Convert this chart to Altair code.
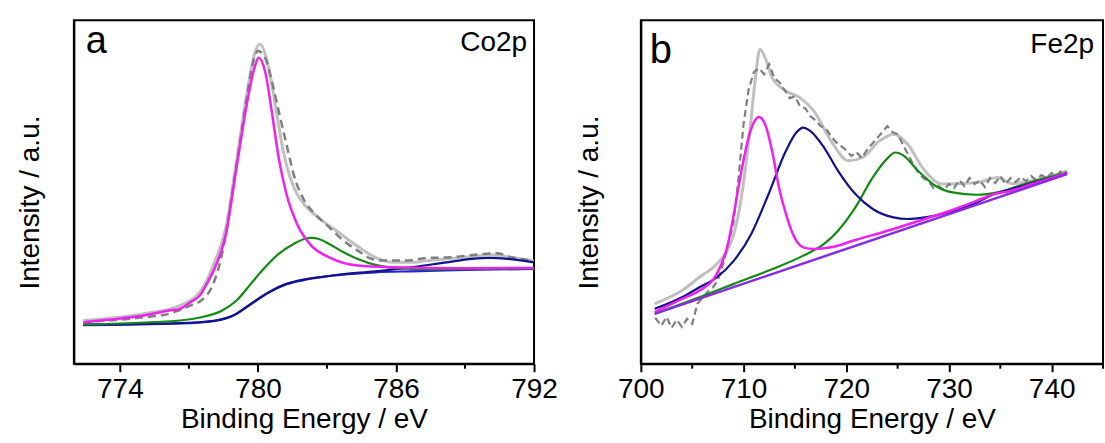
import altair as alt
import pandas as pd

FONT = "Liberation Sans"

# ---------------- Panel a : Co2p ----------------
A_ENV_X = [772.41, 775.04, 776.6, 777.53, 778.14, 778.61, 779.07, 779.54, 779.85, 780.08, 780.47, 780.8,
           781.1, 781.4, 781.7, 782.0, 782.8, 783.6, 784.4, 785.1, 785.9, 786.8, 787.4, 789.0, 790.1, 791.0, 792.0]
A_ENV_Y = [43.3, 50, 58.3, 73.3, 103.3, 136.6, 203.3, 273.3, 310, 320, 296.6, 253,
           213, 186.6, 170, 160, 143.3, 130, 116.6, 106.6, 101.6, 101.6, 103.3, 106.6, 109.3, 106.6, 102.6]

A_DATA_X = [772.41, 775.04, 776.13, 777.06, 777.53, 777.99, 778.30, 778.61, 778.92, 779.23, 779.54, 779.77,
            780.0, 780.31, 780.6, 780.9, 781.24, 781.55, 782.02, 782.48, 783.1, 783.72, 784.34, 784.96,
            785.58, 786.36, 787.4, 788.37, 789.45, 790.38, 791.0, 792.0]
A_DATA_Y = [41.6, 46.6, 50, 58.3, 63.3, 76.6, 96.6, 130, 176.6, 223.3, 270, 300,
            313.3, 306.6, 283.3, 253.3, 220, 190, 163.3, 150, 136.6, 123.3, 113.3, 105,
            103.3, 103.3, 106, 106.6, 109.3, 110.6, 106.6, 103.3]

A_MAG_X = [772.41, 773.49, 775.04, 776.13, 776.6, 777.06, 777.53, 777.69, 778.14, 778.61, 779.07, 779.54,
           779.85, 780.03, 780.31, 780.6, 780.9, 781.24, 781.7, 782.33, 783.1, 784.34, 785.9, 789.0, 792.0]
A_MAG_Y = [41.6, 44, 48.3, 53.3, 55, 61.6, 70, 76.6, 96.6, 130, 196.6, 263,
           296.6, 306.6, 293, 253, 206.6, 170, 140, 118, 106.6, 98.3, 96.6, 95.6, 96]

A_GRN_X = [772.41, 776.6, 777.53, 778.45, 779.07, 779.69, 780.31, 780.9, 781.55, 782.02, 782.33, 782.64,
           783.1, 783.72, 784.34, 785.1, 785.9, 787.4, 789.0, 792.0]
A_GRN_Y = [39.3, 43.3, 46.6, 53.3, 63.3, 80, 96.6, 110, 120, 125, 126, 125,
           120, 111.6, 105, 99, 96, 94.6, 95, 95.6]

A_NAVY_X = [772.41, 776.6, 778.14, 778.92, 779.69, 780.47, 781.24, 782.17, 783.57, 785.1, 786.66, 788.21,
            789.3, 790.07, 790.85, 792.0]
A_NAVY_Y = [39.3, 40.6, 43.3, 48.3, 60, 71.6, 80, 85, 89.3, 92.6, 96.6, 101.6,
            105, 106, 105, 101.6]

A_BLUE_X = [772.41, 776.6, 778.14, 778.92, 779.69, 780.47, 781.24, 782.17, 783.57, 785.1, 786.66, 787.4, 789.0, 792.0]
A_BLUE_Y = [38.6, 40.3, 43, 48, 59.6, 71.3, 79.6, 84.6, 89, 91.6, 92.6, 93, 94, 95]

A_MAJOR = [774, 780, 786, 792]
A_MINOR = [777, 783, 789]

# ---------------- Panel b : Fe2p ----------------
B_ENV_X = [701.35, 704.0, 705.7, 707.4, 708.4, 709.06, 709.74, 710.58, 711.09, 711.6, 712.1, 712.78, 714.13,
           715.48, 716.83, 718.52, 720.21, 721.57, 723.26, 724.6, 725.96, 727.65, 729.34, 732.72, 734.75,
           736.1, 739.48, 741.5]
B_ENV_Y = [60, 73.3, 86.6, 100, 113.3, 130, 163.3, 230, 280, 315, 306.6, 286.6, 273.3,
           266.6, 253.3, 223.3, 203.3, 206.6, 223.3, 230, 220, 193.3, 180, 181.6, 186.6,
           180.6, 186.6, 193.3]

B_DATA_X = [701.4, 702, 702.5, 703, 703.5, 704, 704.5, 705, 705.5, 706, 706.5, 707, 707.5, 708, 708.5, 709,
            709.5, 710, 710.5, 711, 711.5, 712, 712.5, 713, 713.5, 714, 714.5, 715, 715.5, 716, 716.5, 717,
            717.5, 718, 718.5, 719, 719.5, 720, 720.5, 721, 721.5, 722, 722.5, 723, 723.5, 724, 724.5, 725,
            725.5, 726, 726.5, 727, 727.5, 728, 728.5, 729, 729.5, 730, 730.5, 731, 731.5, 732, 732.5, 733,
            733.5, 734, 734.5, 735, 735.5, 736, 736.5, 737, 737.5, 738, 738.5, 739, 739.5, 740, 740.5, 741, 741.5]
B_DATA_Y = [46, 38, 47, 36, 44, 37, 45, 40, 60, 66, 72, 76, 84, 100, 120, 140,
            185, 240, 275, 292, 296, 290, 300, 286, 282, 274, 266, 268, 258, 256, 248, 244,
            238, 236, 228, 222, 218, 214, 208, 212, 206, 214, 220, 226, 232, 238, 232, 230,
            220, 210, 200, 192, 186, 183, 176, 178, 174, 180, 176, 184, 178, 186, 180, 184,
            177, 186, 181, 188, 180, 186, 182, 187, 183, 188, 184, 189, 186, 191, 188, 194, 191]

B_PINK_X = [701.35, 704.0, 705.7, 707.4, 708.4, 709.06, 709.74, 710.58, 711.09, 711.5, 712.1, 712.78, 713.45,
            714.13, 714.8, 715.82, 716.83, 718.5, 720.9, 724.27, 727.65, 731.03, 733.39, 734.41, 735.76,
            737.79, 741.5]
B_PINK_Y = [51.6, 65, 73.3, 90, 116.6, 150, 190, 230, 243.3, 247.3, 240, 213.3, 176.6,
            150, 130, 116.6, 115, 116.6, 124, 134, 145, 156.5, 166, 170, 172.5,
            179, 191]

B_NAVY_X = [701.35, 704.0, 705.7, 707.4, 709.06, 710.75, 712.44, 714.13, 715.14, 715.82, 716.49, 717.84,
            719.2, 720.89, 722.58, 724.6, 725.96, 727.65, 729.34, 731.03, 732.72, 734.41, 736.1, 739.48, 741.5]
B_NAVY_Y = [55, 66.6, 76.6, 86.6, 103.3, 130, 170, 213.3, 231.6, 236.6, 233.3, 216.6,
            193.3, 170, 155, 146.6, 145, 146.6, 150, 155, 161.6, 170, 175, 185, 190.6]

B_GRN_X = [701.35, 705.7, 709.06, 712.44, 715.82, 717.84, 719.2, 720.89, 722.58, 723.94, 724.78, 725.62,
           726.98, 728.67, 730.35, 732.72, 734.75, 737.79, 741.5]
B_GRN_Y = [50, 66.6, 80, 93.3, 108.3, 120, 133.3, 156.6, 186.6, 205, 211.6, 208.3,
           193.3, 178.3, 171.6, 169.3, 171.6, 181.6, 191.6]

B_BASE_X = [701.35, 741.5]
B_BASE_Y = [50, 190]

B_MAJOR = [700, 710, 720, 730, 740]
B_MINOR = [705, 715, 725, 735, 745]

Y_DOMAIN = [0, 344]
W_A, W_B, H = 461, 463, 344


def x_enc(domain, major, title="Binding Energy / eV"):
    return alt.X(
        "eV:Q",
        scale=alt.Scale(domain=domain, nice=False, zero=False),
        axis=alt.Axis(values=major, format="d", tickSize=8, tickWidth=2, tickColor="black",
                      labelFontSize=28, labelFont=FONT, labelColor="black", labelPadding=4,
                      labelFlush=False, labelOverlap=False,
                      title=title, titleFont=FONT, titleFontSize=28, titleFontWeight="normal",
                      titleColor="black", titlePadding=2,
                      domainColor="black", domainWidth=2, grid=False),
    )


def y_enc(pad):
    return alt.Y(
        "I:Q",
        scale=alt.Scale(domain=Y_DOMAIN, nice=False, zero=False),
        axis=alt.Axis(labels=False, ticks=False, grid=False, domainColor="black", domainWidth=2,
                      title="Intensity / a.u.", titleFont=FONT, titleFontSize=28,
                      titleFontWeight="normal", titleColor="black", titlePadding=pad, titleY=182),
    )


def curve(xs, ys, color, width, domain, major, pad, dash=None, interp="monotone"):
    df = pd.DataFrame({"eV": xs, "I": ys})
    kw = dict(color=color, strokeWidth=width, interpolate=interp, clip=True)
    if dash:
        kw["strokeDash"] = dash
    return alt.Chart(df).mark_line(**kw).encode(x=x_enc(domain, major), y=y_enc(pad))


def minor_ticks(vals, domain, major, pad):
    df = pd.DataFrame({"eV": vals})
    return alt.Chart(df).mark_rule(color="black", strokeWidth=2).encode(
        x=x_enc(domain, major), y=alt.value(H), y2=alt.value(H + 5))


def label(txt, xpx, ypx, size, align):
    return alt.Chart(pd.DataFrame({"t": [txt]})).mark_text(
        align=align, baseline="alphabetic", fontSize=size, font=FONT, color="black"
    ).encode(text="t:N", x=alt.value(xpx), y=alt.value(ypx))


DA = [772, 792]
DB = [700, 745]
PA, PB = 29, 37

panel_a = alt.layer(
    curve(A_ENV_X, A_ENV_Y, "#c0c0c0", 3, DA, A_MAJOR, PA),
    curve(A_DATA_X, A_DATA_Y, "#7f7f7f", 2.5, DA, A_MAJOR, PA, dash=[8, 5]),
    curve(A_BLUE_X, A_BLUE_Y, "#2222dd", 2.2, DA, A_MAJOR, PA),
    curve(A_NAVY_X, A_NAVY_Y, "#12128a", 2.2, DA, A_MAJOR, PA),
    curve(A_GRN_X, A_GRN_Y, "#138a13", 2.2, DA, A_MAJOR, PA),
    curve(A_MAG_X, A_MAG_Y, "#f020f0", 2.5, DA, A_MAJOR, PA),
    minor_ticks(A_MINOR, DA, A_MAJOR, PA),
    label("a", 12, 33, 38, "left"),
    label("Co2p", 454, 31, 28, "right"),
).properties(width=W_A, height=H)

panel_b = alt.layer(
    curve(B_ENV_X, B_ENV_Y, "#c0c0c0", 3, DB, B_MAJOR, PB),
    curve(B_DATA_X, B_DATA_Y, "#7f7f7f", 2.2, DB, B_MAJOR, PB, dash=[7, 4], interp="linear"),
    curve(B_GRN_X, B_GRN_Y, "#138a13", 2.2, DB, B_MAJOR, PB),
    curve(B_NAVY_X, B_NAVY_Y, "#12128a", 2.2, DB, B_MAJOR, PB),
    curve(B_PINK_X, B_PINK_Y, "#f020f0", 2.5, DB, B_MAJOR, PB),
    curve(B_BASE_X, B_BASE_Y, "#8a2be2", 2.5, DB, B_MAJOR, PB, interp="linear"),
    minor_ticks(B_MINOR, DB, B_MAJOR, PB),
    label("b", 9, 43, 40, "left"),
    label("Fe2p", 454, 33, 28, "right"),
).properties(width=W_B, height=H)

chart = alt.hconcat(panel_a, panel_b, spacing=107, bounds="flush").properties(
    padding={"left": 16, "top": 19, "right": 0, "bottom": 0},
    background="white",
).configure_view(stroke="black", strokeWidth=2)

chart.save("out.html", embed_options={"renderer": "svg", "actions": False})
